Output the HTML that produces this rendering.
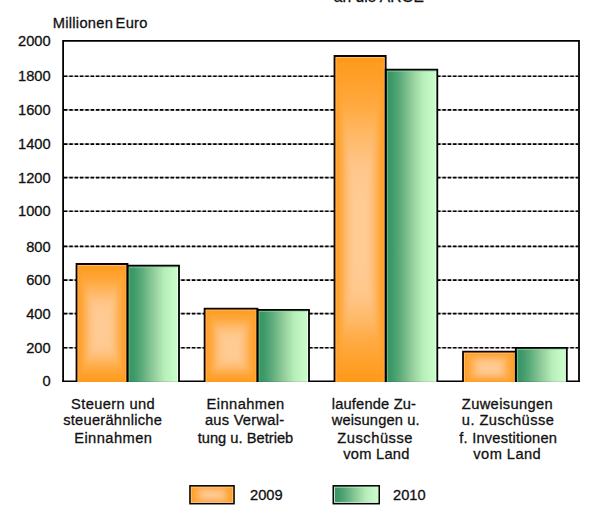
<!DOCTYPE html>
<html><head><meta charset="utf-8"><style>
html,body{margin:0;padding:0;background:#fff;width:600px;height:520px;overflow:hidden}
svg{display:block}
text{font-family:"Liberation Sans",sans-serif;font-size:14.67px;fill:#111;stroke:#111;stroke-width:0.3px}
text.c{letter-spacing:0.3px}
</style></head><body>
<svg width="600" height="520" viewBox="0 0 600 520">
<defs><filter id="bl" x="-0.5" y="-0.5" width="2" height="2"><feGaussianBlur stdDeviation="2.5"/></filter><linearGradient id="gg" x1="0" y1="0" x2="1" y2="0"><stop offset="0" stop-color="#389262"/><stop offset="0.12" stop-color="#3D9A68"/><stop offset="0.27" stop-color="#5AAA7A"/><stop offset="0.5" stop-color="#90CC9A"/><stop offset="0.72" stop-color="#B8EEBA"/><stop offset="0.9" stop-color="#C6FAC6"/><stop offset="1" stop-color="#C8FCC8"/></linearGradient><linearGradient id="o0t" gradientUnits="userSpaceOnUse" x1="0" y1="330.024" x2="0" y2="264.0"><stop offset="0" stop-color="#FFCB95"/><stop offset="0.25" stop-color="#FFCA93"/><stop offset="0.4" stop-color="#FFC689"/><stop offset="0.55" stop-color="#FFBA6A"/><stop offset="0.72" stop-color="#FFAA41"/><stop offset="0.87" stop-color="#FFA02A"/><stop offset="1.0" stop-color="#FF9A1A"/></linearGradient><linearGradient id="o0b" gradientUnits="userSpaceOnUse" x1="0" y1="330.024" x2="0" y2="381.9"><stop offset="0" stop-color="#FFCB95"/><stop offset="0.25" stop-color="#FFCA93"/><stop offset="0.4" stop-color="#FFC689"/><stop offset="0.55" stop-color="#FFBA6A"/><stop offset="0.72" stop-color="#FFAA41"/><stop offset="0.87" stop-color="#FFA02A"/><stop offset="1.0" stop-color="#FF9A1A"/></linearGradient><linearGradient id="o0l" gradientUnits="userSpaceOnUse" x1="102.0" y1="0" x2="76.5" y2="0"><stop offset="0" stop-color="#FFCB95"/><stop offset="0.25" stop-color="#FFCA93"/><stop offset="0.4" stop-color="#FFC689"/><stop offset="0.55" stop-color="#FFBA6A"/><stop offset="0.72" stop-color="#FFAA41"/><stop offset="0.87" stop-color="#FFA02A"/><stop offset="1.0" stop-color="#FF9A1A"/></linearGradient><linearGradient id="o0r" gradientUnits="userSpaceOnUse" x1="102.0" y1="0" x2="127.5" y2="0"><stop offset="0" stop-color="#FFCB95"/><stop offset="0.25" stop-color="#FFCA93"/><stop offset="0.4" stop-color="#FFC689"/><stop offset="0.55" stop-color="#FFBA6A"/><stop offset="0.72" stop-color="#FFAA41"/><stop offset="0.87" stop-color="#FFA02A"/><stop offset="1.0" stop-color="#FF9A1A"/></linearGradient><clipPath id="o0c"><rect x="76.5" y="264.0" width="51.0" height="117.89999999999998"/></clipPath><linearGradient id="o1t" gradientUnits="userSpaceOnUse" x1="0" y1="349.648" x2="0" y2="308.6"><stop offset="0" stop-color="#FFCB95"/><stop offset="0.25" stop-color="#FFCA93"/><stop offset="0.4" stop-color="#FFC689"/><stop offset="0.55" stop-color="#FFBA6A"/><stop offset="0.72" stop-color="#FFAA41"/><stop offset="0.87" stop-color="#FFA02A"/><stop offset="1.0" stop-color="#FF9A1A"/></linearGradient><linearGradient id="o1b" gradientUnits="userSpaceOnUse" x1="0" y1="349.648" x2="0" y2="381.9"><stop offset="0" stop-color="#FFCB95"/><stop offset="0.25" stop-color="#FFCA93"/><stop offset="0.4" stop-color="#FFC689"/><stop offset="0.55" stop-color="#FFBA6A"/><stop offset="0.72" stop-color="#FFAA41"/><stop offset="0.87" stop-color="#FFA02A"/><stop offset="1.0" stop-color="#FF9A1A"/></linearGradient><linearGradient id="o1l" gradientUnits="userSpaceOnUse" x1="231.05" y1="0" x2="204.6" y2="0"><stop offset="0" stop-color="#FFCB95"/><stop offset="0.25" stop-color="#FFCA93"/><stop offset="0.4" stop-color="#FFC689"/><stop offset="0.55" stop-color="#FFBA6A"/><stop offset="0.72" stop-color="#FFAA41"/><stop offset="0.87" stop-color="#FFA02A"/><stop offset="1.0" stop-color="#FF9A1A"/></linearGradient><linearGradient id="o1r" gradientUnits="userSpaceOnUse" x1="231.05" y1="0" x2="257.5" y2="0"><stop offset="0" stop-color="#FFCB95"/><stop offset="0.25" stop-color="#FFCA93"/><stop offset="0.4" stop-color="#FFC689"/><stop offset="0.55" stop-color="#FFBA6A"/><stop offset="0.72" stop-color="#FFAA41"/><stop offset="0.87" stop-color="#FFA02A"/><stop offset="1.0" stop-color="#FF9A1A"/></linearGradient><clipPath id="o1c"><rect x="204.6" y="308.6" width="52.900000000000006" height="73.29999999999995"/></clipPath><linearGradient id="o2t" gradientUnits="userSpaceOnUse" x1="0" y1="238.504" x2="0" y2="56.0"><stop offset="0" stop-color="#FFCB95"/><stop offset="0.25" stop-color="#FFCA93"/><stop offset="0.4" stop-color="#FFC689"/><stop offset="0.55" stop-color="#FFBA6A"/><stop offset="0.72" stop-color="#FFAA41"/><stop offset="0.87" stop-color="#FFA02A"/><stop offset="1.0" stop-color="#FF9A1A"/></linearGradient><linearGradient id="o2b" gradientUnits="userSpaceOnUse" x1="0" y1="238.504" x2="0" y2="381.9"><stop offset="0" stop-color="#FFCB95"/><stop offset="0.25" stop-color="#FFCA93"/><stop offset="0.4" stop-color="#FFC689"/><stop offset="0.55" stop-color="#FFBA6A"/><stop offset="0.72" stop-color="#FFAA41"/><stop offset="0.87" stop-color="#FFA02A"/><stop offset="1.0" stop-color="#FF9A1A"/></linearGradient><linearGradient id="o2l" gradientUnits="userSpaceOnUse" x1="360.1" y1="0" x2="334.5" y2="0"><stop offset="0" stop-color="#FFCB95"/><stop offset="0.25" stop-color="#FFCA93"/><stop offset="0.4" stop-color="#FFC689"/><stop offset="0.55" stop-color="#FFBA6A"/><stop offset="0.72" stop-color="#FFAA41"/><stop offset="0.87" stop-color="#FFA02A"/><stop offset="1.0" stop-color="#FF9A1A"/></linearGradient><linearGradient id="o2r" gradientUnits="userSpaceOnUse" x1="360.1" y1="0" x2="385.7" y2="0"><stop offset="0" stop-color="#FFCB95"/><stop offset="0.25" stop-color="#FFCA93"/><stop offset="0.4" stop-color="#FFC689"/><stop offset="0.55" stop-color="#FFBA6A"/><stop offset="0.72" stop-color="#FFAA41"/><stop offset="0.87" stop-color="#FFA02A"/><stop offset="1.0" stop-color="#FF9A1A"/></linearGradient><clipPath id="o2c"><rect x="334.5" y="56.0" width="51.19999999999999" height="325.9"/></clipPath><linearGradient id="o3t" gradientUnits="userSpaceOnUse" x1="0" y1="368.61199999999997" x2="0" y2="351.7"><stop offset="0" stop-color="#FFCB95"/><stop offset="0.25" stop-color="#FFCA93"/><stop offset="0.4" stop-color="#FFC689"/><stop offset="0.55" stop-color="#FFBA6A"/><stop offset="0.72" stop-color="#FFAA41"/><stop offset="0.87" stop-color="#FFA02A"/><stop offset="1.0" stop-color="#FF9A1A"/></linearGradient><linearGradient id="o3b" gradientUnits="userSpaceOnUse" x1="0" y1="368.61199999999997" x2="0" y2="381.9"><stop offset="0" stop-color="#FFCB95"/><stop offset="0.25" stop-color="#FFCA93"/><stop offset="0.4" stop-color="#FFC689"/><stop offset="0.55" stop-color="#FFBA6A"/><stop offset="0.72" stop-color="#FFAA41"/><stop offset="0.87" stop-color="#FFA02A"/><stop offset="1.0" stop-color="#FF9A1A"/></linearGradient><linearGradient id="o3l" gradientUnits="userSpaceOnUse" x1="489.4" y1="0" x2="463.0" y2="0"><stop offset="0" stop-color="#FFCB95"/><stop offset="0.25" stop-color="#FFCA93"/><stop offset="0.4" stop-color="#FFC689"/><stop offset="0.55" stop-color="#FFBA6A"/><stop offset="0.72" stop-color="#FFAA41"/><stop offset="0.87" stop-color="#FFA02A"/><stop offset="1.0" stop-color="#FF9A1A"/></linearGradient><linearGradient id="o3r" gradientUnits="userSpaceOnUse" x1="489.4" y1="0" x2="515.8" y2="0"><stop offset="0" stop-color="#FFCB95"/><stop offset="0.25" stop-color="#FFCA93"/><stop offset="0.4" stop-color="#FFC689"/><stop offset="0.55" stop-color="#FFBA6A"/><stop offset="0.72" stop-color="#FFAA41"/><stop offset="0.87" stop-color="#FFA02A"/><stop offset="1.0" stop-color="#FF9A1A"/></linearGradient><clipPath id="o3c"><rect x="463.0" y="351.7" width="52.799999999999955" height="30.19999999999999"/></clipPath><linearGradient id="lot" gradientUnits="userSpaceOnUse" x1="0" y1="494.75" x2="0" y2="485.8"><stop offset="0" stop-color="#FFCB95"/><stop offset="0.25" stop-color="#FFCA93"/><stop offset="0.4" stop-color="#FFC689"/><stop offset="0.55" stop-color="#FFBA6A"/><stop offset="0.72" stop-color="#FFAA41"/><stop offset="0.87" stop-color="#FFA02A"/><stop offset="1.0" stop-color="#FF9A1A"/></linearGradient><linearGradient id="lob" gradientUnits="userSpaceOnUse" x1="0" y1="494.75" x2="0" y2="503.7"><stop offset="0" stop-color="#FFCB95"/><stop offset="0.25" stop-color="#FFCA93"/><stop offset="0.4" stop-color="#FFC689"/><stop offset="0.55" stop-color="#FFBA6A"/><stop offset="0.72" stop-color="#FFAA41"/><stop offset="0.87" stop-color="#FFA02A"/><stop offset="1.0" stop-color="#FF9A1A"/></linearGradient><linearGradient id="lol" gradientUnits="userSpaceOnUse" x1="212.0" y1="0" x2="189.95" y2="0"><stop offset="0" stop-color="#FFCB95"/><stop offset="0.25" stop-color="#FFCA93"/><stop offset="0.4" stop-color="#FFC689"/><stop offset="0.55" stop-color="#FFBA6A"/><stop offset="0.72" stop-color="#FFAA41"/><stop offset="0.87" stop-color="#FFA02A"/><stop offset="1.0" stop-color="#FF9A1A"/></linearGradient><linearGradient id="lor" gradientUnits="userSpaceOnUse" x1="212.0" y1="0" x2="234.05" y2="0"><stop offset="0" stop-color="#FFCB95"/><stop offset="0.25" stop-color="#FFCA93"/><stop offset="0.4" stop-color="#FFC689"/><stop offset="0.55" stop-color="#FFBA6A"/><stop offset="0.72" stop-color="#FFAA41"/><stop offset="0.87" stop-color="#FFA02A"/><stop offset="1.0" stop-color="#FF9A1A"/></linearGradient><clipPath id="loc"><rect x="189.95" y="485.8" width="44.10000000000002" height="17.899999999999977"/></clipPath></defs>
<path d="M63.1,381.9 V40.8 H579.0 V381.9" fill="none" stroke="#000" stroke-width="1.8"/><line x1="62.2" y1="381.2" x2="579.9" y2="381.2" stroke="#000" stroke-width="1.5"/><line x1="64" y1="76.2" x2="578" y2="76.2" stroke="#000" stroke-opacity="0.28" stroke-width="1.5"/><line x1="64" y1="76.2" x2="578" y2="76.2" stroke="#000" stroke-width="1.6" stroke-dasharray="3.4 1.93"/><line x1="64" y1="109.9" x2="578" y2="109.9" stroke="#000" stroke-opacity="0.28" stroke-width="1.5"/><line x1="64" y1="109.9" x2="578" y2="109.9" stroke="#000" stroke-width="1.6" stroke-dasharray="3.4 1.93"/><line x1="64" y1="144.1" x2="578" y2="144.1" stroke="#000" stroke-opacity="0.28" stroke-width="1.5"/><line x1="64" y1="144.1" x2="578" y2="144.1" stroke="#000" stroke-width="1.6" stroke-dasharray="3.4 1.93"/><line x1="64" y1="177.6" x2="578" y2="177.6" stroke="#000" stroke-opacity="0.28" stroke-width="1.5"/><line x1="64" y1="177.6" x2="578" y2="177.6" stroke="#000" stroke-width="1.6" stroke-dasharray="3.4 1.93"/><line x1="64" y1="211.3" x2="578" y2="211.3" stroke="#000" stroke-opacity="0.28" stroke-width="1.5"/><line x1="64" y1="211.3" x2="578" y2="211.3" stroke="#000" stroke-width="1.6" stroke-dasharray="3.4 1.93"/><line x1="64" y1="246.4" x2="578" y2="246.4" stroke="#000" stroke-opacity="0.28" stroke-width="1.5"/><line x1="64" y1="246.4" x2="578" y2="246.4" stroke="#000" stroke-width="1.6" stroke-dasharray="3.4 1.93"/><line x1="64" y1="280.1" x2="578" y2="280.1" stroke="#000" stroke-opacity="0.28" stroke-width="1.5"/><line x1="64" y1="280.1" x2="578" y2="280.1" stroke="#000" stroke-width="1.6" stroke-dasharray="3.4 1.93"/><line x1="64" y1="313.6" x2="578" y2="313.6" stroke="#000" stroke-opacity="0.28" stroke-width="1.5"/><line x1="64" y1="313.6" x2="578" y2="313.6" stroke="#000" stroke-width="1.6" stroke-dasharray="3.4 1.93"/><line x1="64" y1="347.7" x2="578" y2="347.7" stroke="#000" stroke-opacity="0.28" stroke-width="1.5"/><line x1="64" y1="347.7" x2="578" y2="347.7" stroke="#000" stroke-width="1.6" stroke-dasharray="3.4 1.93"/><g clip-path="url(#o0c)"><g filter="url(#bl)"><rect fill="#FF9A1A" x="68.5" y="256.0" width="67.0" height="133.89999999999998"/><rect fill="url(#o0l)" x="76.5" y="264.0" width="26.0" height="117.89999999999998"/><rect fill="url(#o0r)" x="102.0" y="264.0" width="25.5" height="117.89999999999998"/><polygon fill="url(#o0t)" points="76.5,264.0 127.5,264.0 102.0,330.024"/><polygon fill="url(#o0b)" points="76.5,381.9 127.5,381.9 102.0,330.024"/></g></g><rect x="127.5" y="265.7" width="51.5" height="116.19999999999999" fill="url(#gg)"/><path d="M77.8,381.9 V265.3 H126.2 V381.9" fill="none" stroke="#FFD49A" stroke-opacity="0.7" stroke-width="1"/><path d="M128.8,381.9 V267.0 H177.7" fill="none" stroke="#8FD8A8" stroke-opacity="0.9" stroke-width="1"/><path d="M177.7,267.0 V381.9" fill="none" stroke="#F4FFF4" stroke-opacity="0.9" stroke-width="1"/><path d="M76.5,381.9 V264.0 H127.5 V381.9" fill="none" stroke="#100400" stroke-width="1.8"/><path d="M127.5,381.9 V265.7 H179.0 V381.9" fill="none" stroke="#000" stroke-width="1.8"/><g clip-path="url(#o1c)"><g filter="url(#bl)"><rect fill="#FF9A1A" x="196.6" y="300.6" width="68.9" height="89.29999999999995"/><rect fill="url(#o1l)" x="204.6" y="308.6" width="26.950000000000017" height="73.29999999999995"/><rect fill="url(#o1r)" x="231.05" y="308.6" width="26.44999999999999" height="73.29999999999995"/><polygon fill="url(#o1t)" points="204.6,308.6 257.5,308.6 231.05,349.648"/><polygon fill="url(#o1b)" points="204.6,381.9 257.5,381.9 231.05,349.648"/></g></g><rect x="257.5" y="309.8" width="51.5" height="72.09999999999997" fill="url(#gg)"/><path d="M205.9,381.9 V309.90000000000003 H256.2 V381.9" fill="none" stroke="#FFD49A" stroke-opacity="0.7" stroke-width="1"/><path d="M258.8,381.9 V311.1 H307.7" fill="none" stroke="#8FD8A8" stroke-opacity="0.9" stroke-width="1"/><path d="M307.7,311.1 V381.9" fill="none" stroke="#F4FFF4" stroke-opacity="0.9" stroke-width="1"/><path d="M204.6,381.9 V308.6 H257.5 V381.9" fill="none" stroke="#100400" stroke-width="1.8"/><path d="M257.5,381.9 V309.8 H309.0 V381.9" fill="none" stroke="#000" stroke-width="1.8"/><g clip-path="url(#o2c)"><g filter="url(#bl)"><rect fill="#FF9A1A" x="326.5" y="48.0" width="67.19999999999999" height="341.9"/><rect fill="url(#o2l)" x="334.5" y="56.0" width="26.100000000000023" height="325.9"/><rect fill="url(#o2r)" x="360.1" y="56.0" width="25.599999999999966" height="325.9"/><polygon fill="url(#o2t)" points="334.5,56.0 385.7,56.0 360.1,238.504"/><polygon fill="url(#o2b)" points="334.5,381.9 385.7,381.9 360.1,238.504"/></g></g><rect x="385.7" y="69.7" width="51.60000000000002" height="312.2" fill="url(#gg)"/><path d="M335.8,381.9 V57.3 H384.4 V381.9" fill="none" stroke="#FFD49A" stroke-opacity="0.7" stroke-width="1"/><path d="M387.0,381.9 V71.0 H436.0" fill="none" stroke="#8FD8A8" stroke-opacity="0.9" stroke-width="1"/><path d="M436.0,71.0 V381.9" fill="none" stroke="#F4FFF4" stroke-opacity="0.9" stroke-width="1"/><path d="M334.5,381.9 V56.0 H385.7 V381.9" fill="none" stroke="#100400" stroke-width="1.8"/><path d="M385.7,381.9 V69.7 H437.3 V381.9" fill="none" stroke="#000" stroke-width="1.8"/><g clip-path="url(#o3c)"><g filter="url(#bl)"><rect fill="#FF9A1A" x="455.0" y="343.7" width="68.79999999999995" height="46.19999999999999"/><rect fill="url(#o3l)" x="463.0" y="351.7" width="26.899999999999977" height="30.19999999999999"/><rect fill="url(#o3r)" x="489.4" y="351.7" width="26.399999999999977" height="30.19999999999999"/><polygon fill="url(#o3t)" points="463.0,351.7 515.8,351.7 489.4,368.61199999999997"/><polygon fill="url(#o3b)" points="463.0,381.9 515.8,381.9 489.4,368.61199999999997"/></g></g><rect x="515.8" y="347.9" width="51.0" height="34.0" fill="url(#gg)"/><path d="M464.3,381.9 V353.0 H514.5 V381.9" fill="none" stroke="#FFD49A" stroke-opacity="0.7" stroke-width="1"/><path d="M517.0999999999999,381.9 V349.2 H565.5" fill="none" stroke="#8FD8A8" stroke-opacity="0.9" stroke-width="1"/><path d="M565.5,349.2 V381.9" fill="none" stroke="#F4FFF4" stroke-opacity="0.9" stroke-width="1"/><path d="M463.0,381.9 V351.7 H515.8 V381.9" fill="none" stroke="#100400" stroke-width="1.8"/><path d="M515.8,381.9 V347.9 H566.8 V381.9" fill="none" stroke="#000" stroke-width="1.8"/><text x="50.6" y="45.9" text-anchor="end">2000</text><text x="50.6" y="81.3" text-anchor="end">1800</text><text x="50.6" y="115.0" text-anchor="end">1600</text><text x="50.6" y="149.2" text-anchor="end">1400</text><text x="50.6" y="182.7" text-anchor="end">1200</text><text x="50.6" y="216.4" text-anchor="end">1000</text><text x="50.6" y="251.5" text-anchor="end">800</text><text x="50.6" y="285.2" text-anchor="end">600</text><text x="50.6" y="318.7" text-anchor="end">400</text><text x="50.6" y="352.8" text-anchor="end">200</text><text x="50.6" y="386.1" text-anchor="end">0</text><text x="52.7" y="28.2" style="letter-spacing:0.3px;word-spacing:-2px">Millionen Euro</text><text x="333.8" y="2.1" style="font-size:15.6px">an die ARGE</text><text x="71.1" y="409.2" style="letter-spacing:0.38px">Steuern und</text><text x="63.2" y="425.2" style="letter-spacing:0.254px">steuerähnliche</text><text x="74.2" y="442.6" style="letter-spacing:0.45px">Einnahmen</text><text x="206.5" y="409.2" style="letter-spacing:0.45px">Einnahmen</text><text x="204.9" y="425.2" style="letter-spacing:0.26px">aus Verwal-</text><text x="197.7" y="442.6" style="letter-spacing:0.014px">tung u. Betrieb</text><text x="331.8" y="409.2" style="letter-spacing:0.173px">laufende Zu-</text><text x="331.7" y="425.2" style="letter-spacing:0.136px">weisungen u.</text><text x="337.25" y="442.6" style="letter-spacing:0.55px">Zuschüsse</text><text x="343.3" y="459.2" style="letter-spacing:0.243px">vom Land</text><text x="461.8" y="409.2" style="letter-spacing:0.38px">Zuweisungen</text><text x="461.8" y="425.2" style="letter-spacing:0.445px">u. Zuschüsse</text><text x="459.3" y="442.6" style="letter-spacing:0.207px">f. Investitionen</text><text x="473.3" y="459.2" style="letter-spacing:0.443px">vom Land</text><g clip-path="url(#loc)"><g filter="url(#bl)"><rect fill="#FF9A1A" x="181.95" y="477.8" width="60.10000000000002" height="33.89999999999998"/><rect fill="url(#lol)" x="189.95" y="485.8" width="22.55000000000001" height="17.899999999999977"/><rect fill="url(#lor)" x="212.0" y="485.8" width="22.05000000000001" height="17.899999999999977"/><polygon fill="url(#lot)" points="189.95,485.8 234.05,485.8 212.0,494.75"/><polygon fill="url(#lob)" points="189.95,503.7 234.05,503.7 212.0,494.75"/></g></g><rect x="191.2" y="487.05" width="41.6" height="15.4" fill="none" stroke="#FFD49A" stroke-opacity="0.8" stroke-width="1"/><rect x="189.95" y="485.8" width="44.1" height="17.9" fill="none" stroke="#000" stroke-width="1.5"/><rect x="333.25" y="485.8" width="46" height="17.9" fill="url(#gg)"/><rect x="334.5" y="487.05" width="43.5" height="15.4" fill="none" stroke="#D8F8E0" stroke-opacity="0.8" stroke-width="1"/><rect x="333.25" y="485.8" width="46" height="17.9" fill="none" stroke="#000" stroke-width="1.5"/><text x="250" y="500.2">2009</text><text x="393" y="500.2">2010</text>
</svg>
</body></html>
